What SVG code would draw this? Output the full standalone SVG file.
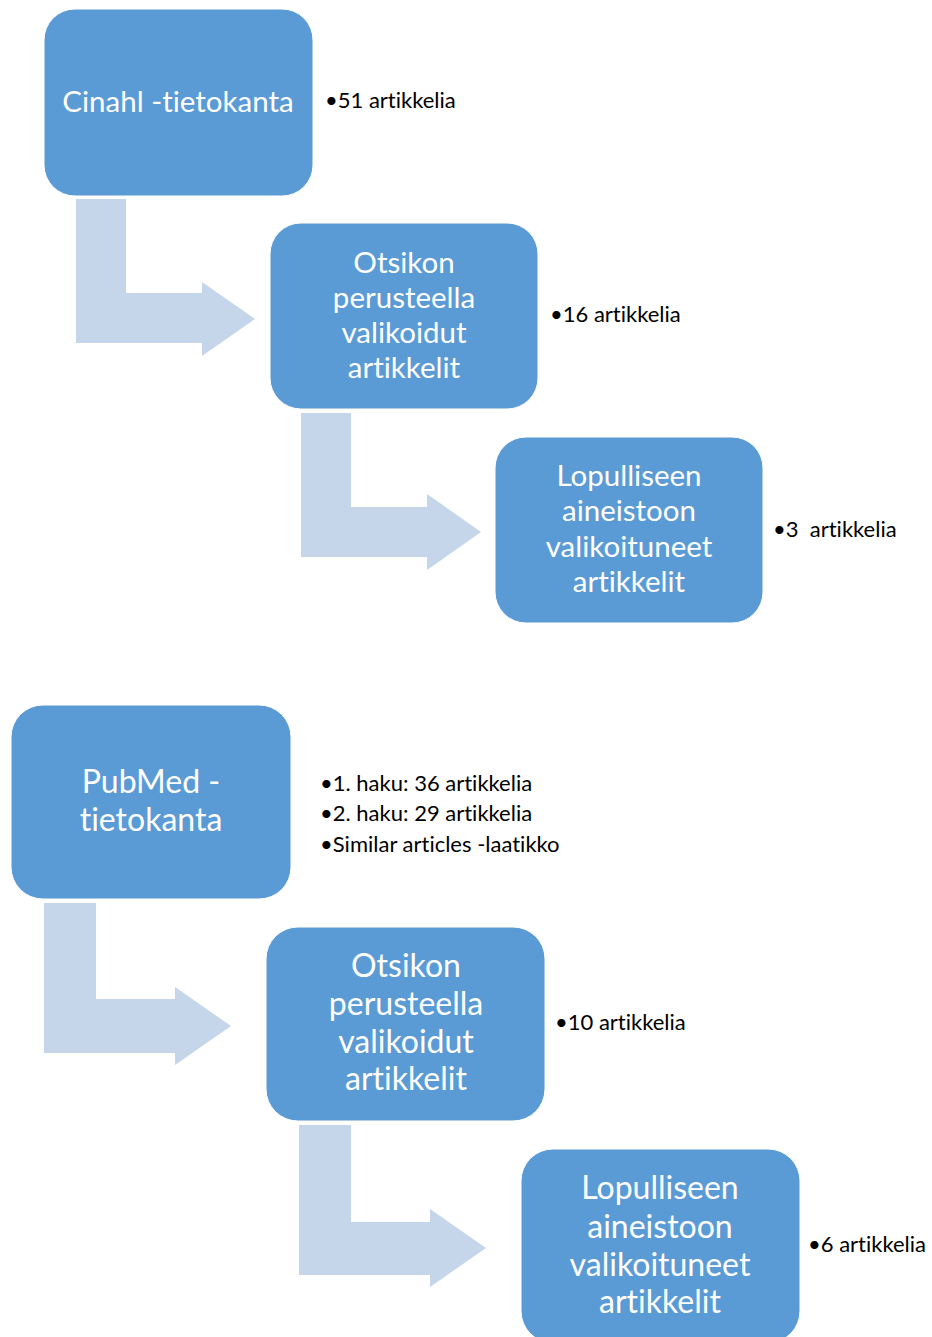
<svg xmlns="http://www.w3.org/2000/svg" width="932" height="1337" viewBox="0 0 932 1337">
<style>
.box{fill:#5B9BD5;stroke:#FFFFFF;stroke-width:1}
.arr{fill:#C5D5EA}
text{font-family:Lato,"Liberation Sans",sans-serif;font-variant-ligatures:none}
.bt{fill:#FFFFFF;text-anchor:middle;font-size:29.5px}
.bt2{fill:#FFFFFF;text-anchor:middle;font-size:32px}
.lt{fill:#000000;font-size:22px}
</style>
<rect width="932" height="1337" fill="#FFFFFF"/>
<g id="connectors">
<path class="arr" d="M76,199 H126 V293 H202 V282 L255,319 L202,356 V343 H76 Z"/>
<path class="arr" d="M301,413 H351 V507 H427 V494 L481,532 L427,570 V557 H301 Z"/>
<path class="arr" d="M44,903 H96 V999 H175 V987 L231,1026 L175,1065 V1053 H44 Z"/>
<path class="arr" d="M299,1125 H351 V1222 H430 V1209 L486,1248 L430,1287 V1275 H299 Z"/>
</g>
<g id="cinahl">
<rect class="box" x="44" y="9" width="269" height="187" rx="31"/>
<text class="bt" x="178" y="112">Cinahl -tietokanta</text>
</g>
<g id="cinahl-note">
<text class="lt" x="325" y="108">•51 artikkelia</text>
</g>
<g id="cinahl-otsikon">
<rect class="box" x="270" y="223" width="268" height="186" rx="31"/>
<text class="bt" x="404" y="273">Otsikon</text>
<text class="bt" x="404" y="308">perusteella</text>
<text class="bt" x="404" y="343">valikoidut</text>
<text class="bt" x="404" y="378">artikkelit</text>
</g>
<g id="cinahl-otsikon-note">
<text class="lt" x="550" y="322">•16 artikkelia</text>
</g>
<g id="cinahl-lopullinen">
<rect class="box" x="495" y="437" width="268" height="186" rx="31"/>
<text class="bt" x="629" y="486">Lopulliseen</text>
<text class="bt" x="629" y="521">aineistoon</text>
<text class="bt" x="629" y="557">valikoituneet</text>
<text class="bt" x="629" y="592">artikkelit</text>
</g>
<g id="cinahl-lopullinen-note">
<text class="lt" x="773" y="537" xml:space="preserve">•3  artikkelia</text>
</g>
<g id="pubmed">
<rect class="box" x="11" y="705" width="280" height="194" rx="32"/>
<text class="bt2" x="151" y="793">PubMed -</text>
<text class="bt2" x="151" y="831">tietokanta</text>
</g>
<g id="pubmed-note">
<text class="lt" x="320" y="791">•1. haku: 36 artikkelia</text>
<text class="lt" x="320" y="821">•2. haku: 29 artikkelia</text>
<text class="lt" x="320" y="852">•Similar articles -laatikko</text>
</g>
<g id="pubmed-otsikon">
<rect class="box" x="266" y="927" width="279" height="194" rx="32"/>
<text class="bt2" x="406" y="977">Otsikon</text>
<text class="bt2" x="406" y="1015">perusteella</text>
<text class="bt2" x="406" y="1053">valikoidut</text>
<text class="bt2" x="406" y="1090">artikkelit</text>
</g>
<g id="pubmed-otsikon-note">
<text class="lt" x="555" y="1030">•10 artikkelia</text>
</g>
<g id="pubmed-lopullinen">
<rect class="box" x="521" y="1149" width="279" height="194" rx="32"/>
<text class="bt2" x="660" y="1199">Lopulliseen</text>
<text class="bt2" x="660" y="1238">aineistoon</text>
<text class="bt2" x="660" y="1276">valikoituneet</text>
<text class="bt2" x="660" y="1313">artikkelit</text>
</g>
<g id="pubmed-lopullinen-note">
<text class="lt" x="808" y="1252">•6 artikkelia</text>
</g>
</svg>
